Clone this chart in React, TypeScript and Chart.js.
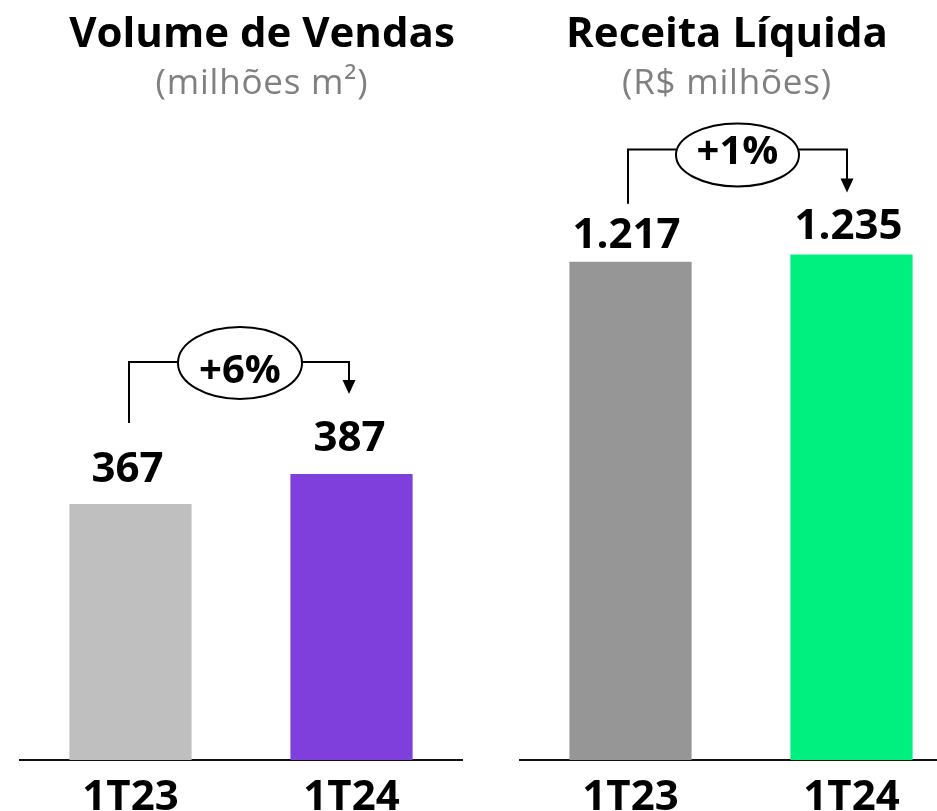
import React, { useEffect, useRef } from "react";
import { Chart, registerables } from "chart.js";
Chart.register(...registerables);

const categories = ["1T23", "1T24"];
const volumeValues = [367, 387];
const revenueValues = [1217, 1235];
const volumeChange = "+6%";
const revenueChange = "+1%";
const volumeColors = ["#bfbfbf", "#7f3fdc"];
const revenueColors = ["#969696", "#00f080"];
const volumeTitle = "Volume de Vendas";
const volumeSubtitle = "(milhões m²)";
const revenueTitle = "Receita Líquida";
const revenueSubtitle = "(R$ milhões)";

const FONT = "'Open Sans', 'Noto Sans', sans-serif";

const fmt = (v: number) => String(v).replace(/\B(?=(\d{3})+(?!\d))/g, ".");

const annotPlugin = {
  id: "barAnnot",
  afterDatasetsDraw(chart: any, _args: any, opts: any) {
    const ctx = chart.ctx;
    const bars = chart.getDatasetMeta(0).data;
    const values = chart.data.datasets[0].data;
    ctx.save();
    ctx.fillStyle = "#000";
    ctx.font = `bold 42px ${FONT}`;
    ctx.textAlign = "center";
    ctx.textBaseline = "alphabetic";
    const baselines = bars.map((b: any, i: number) => b.y - opts.labelGap[i]);
    bars.forEach((b: any, i: number) =>
      ctx.fillText(fmt(values[i]), b.x + opts.labelDx[i], baselines[i])
    );
    const cap = 29;
    const x0 = bars[0].x + opts.lineDx[0];
    const x1 = bars[1].x + opts.lineDx[1];
    const topCap = Math.min(baselines[0], baselines[1]) - cap;
    const level = topCap - opts.levelGap;
    const y0 = baselines[0] - cap - opts.startGap;
    const y1 = baselines[1] - cap - opts.endGap;
    const cx = (bars[0].x + bars[1].x) / 2 + opts.ellipseDx;
    const cy = level + opts.ellipseDy;
    const headH = 14;
    const headW = 13;
    ctx.strokeStyle = "#000";
    ctx.lineWidth = 2;
    ctx.beginPath();
    ctx.moveTo(x0, y0);
    ctx.lineTo(x0, level);
    ctx.lineTo(cx - opts.rx, level);
    ctx.moveTo(cx + opts.rx, level);
    ctx.lineTo(x1, level);
    ctx.lineTo(x1, y1 - headH + 1);
    ctx.stroke();
    ctx.beginPath();
    ctx.moveTo(x1 - headW / 2, y1 - headH);
    ctx.lineTo(x1 + headW / 2, y1 - headH);
    ctx.lineTo(x1, y1);
    ctx.closePath();
    ctx.fill();
    ctx.beginPath();
    ctx.ellipse(cx, cy, opts.rx, opts.ry, 0, 0, Math.PI * 2);
    ctx.fillStyle = "#fff";
    ctx.fill();
    ctx.stroke();
    ctx.fillStyle = "#000";
    ctx.font = `bold ${opts.changeSize}px ${FONT}`;
    ctx.fillText(opts.change, cx + opts.textDx, cy + opts.textDy);
    ctx.restore();
  },
};

function makeConfig(values: number[], colors: string[], min: number, max: number, annot: any): any {
  return {
    type: "bar",
    data: {
      labels: categories,
      datasets: [
        {
          data: values,
          backgroundColor: colors,
          borderWidth: 0,
          categoryPercentage: 0.553,
          barPercentage: 1,
        },
      ],
    },
    options: {
      responsive: false,
      animation: false,
      devicePixelRatio: 1,
      layout: { padding: { left: 20, right: 8, top: 110, bottom: 0 } },
      plugins: {
        legend: { display: false },
        tooltip: { enabled: false },
        title: { display: false },
        barAnnot: annot,
      },
      scales: {
        y: { display: false, min, max },
        x: {
          grid: { display: false, drawTicks: false },
          border: { display: true, color: "#111", width: 2 },
          ticks: {
            color: "#000",
            padding: 13,
            font: { family: FONT, size: 42, weight: "bold" },
          },
          afterFit: (scale: any) => {
            scale.height = 51;
          },
        },
      },
    },
    plugins: [annotPlugin],
  };
}

function BarChart({ config, left }: { config: any; left: number }) {
  const ref = useRef<HTMLCanvasElement | null>(null);
  useEffect(() => {
    if (!ref.current) return;
    const chart = new Chart(ref.current, config);
    return () => chart.destroy();
  }, [config]);
  return (
    <canvas
      ref={ref}
      width={470}
      height={811}
      style={{ position: "absolute", left, top: 0, width: 470, height: 811 }}
    />
  );
}

const volumeConfig = makeConfig(volumeValues, volumeColors, 196, 630, {
  labelGap: [22, 23],
  labelDx: [-3, -2],
  lineDx: [-1.5, -2.5],
  startGap: 30,
  levelGap: 60,
  endGap: 28,
  ellipseDx: -1,
  ellipseDy: 1,
  rx: 62,
  ry: 36,
  change: volumeChange,
  changeSize: 40,
  textDx: 0,
  textDy: 20,
});

const revenueConfig = makeConfig(revenueValues, revenueColors, 0, 1588, {
  labelGap: [14, 15],
  labelDx: [-4, -3],
  lineDx: [-2.5, -4.5],
  startGap: 15,
  levelGap: 61,
  endGap: 18,
  ellipseDx: -3.5,
  ellipseDy: 5.5,
  rx: 61.5,
  ry: 31.5,
  change: revenueChange,
  changeSize: 40,
  textDx: 0,
  textDy: 9,
});

function Title({ center, title, subtitle }: { center: number; title: string; subtitle: string }) {
  return (
    <>
      <div
        style={{
          position: "absolute",
          left: center - 250,
          width: 500,
          top: 9.7,
          textAlign: "center",
          fontFamily: FONT,
          fontWeight: "bold",
          fontSize: 42,
          lineHeight: "42px",
          color: "#000",
          whiteSpace: "nowrap",
        }}
      >
        {title}
      </div>
      <div
        style={{
          position: "absolute",
          left: center - 250,
          width: 500,
          top: 62.9,
          textAlign: "center",
          fontFamily: FONT,
          fontSize: 35,
          lineHeight: "35px",
          letterSpacing: "0.8px",
          color: "#808080",
          whiteSpace: "nowrap",
        }}
      >
        {subtitle}
      </div>
    </>
  );
}

export default function App() {
  return (
    <div
      style={{
        position: "absolute",
        left: 0,
        top: 0,
        width: 937,
        height: 811,
        overflow: "hidden",
        background: "#fff",
      }}
    >
      <BarChart config={volumeConfig} left={0} />
      <BarChart config={revenueConfig} left={500} />
      <Title center={262} title={volumeTitle} subtitle={volumeSubtitle} />
      <Title center={727} title={revenueTitle} subtitle={revenueSubtitle} />
    </div>
  );
}
